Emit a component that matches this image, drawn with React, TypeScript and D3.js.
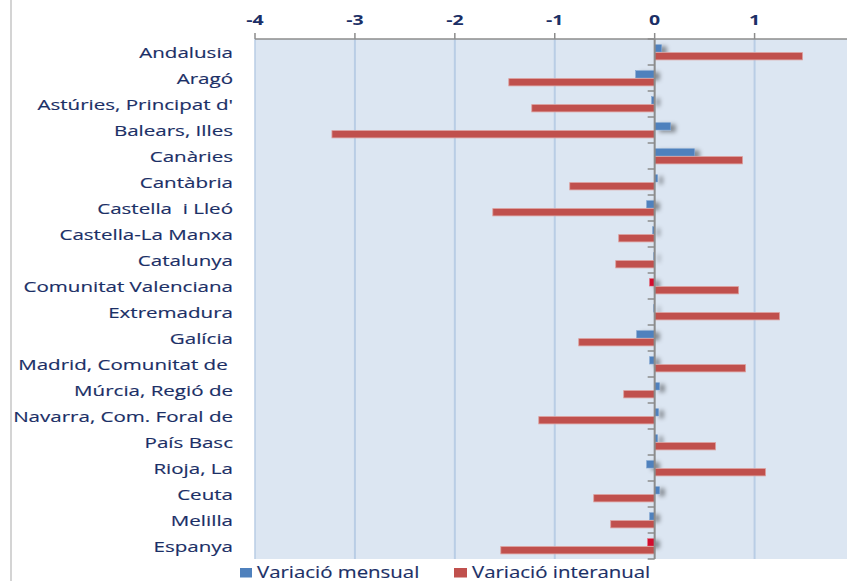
import React from "react";
import * as d3 from "d3";

const categories = [
  "Andalusia",
  "Aragó",
  "Astúries, Principat d'",
  "Balears, Illes",
  "Canàries",
  "Cantàbria",
  "Castella  i Lleó",
  "Castella-La Manxa",
  "Catalunya",
  "Comunitat Valenciana",
  "Extremadura",
  "Galícia",
  "Madrid, Comunitat de ",
  "Múrcia, Regió de",
  "Navarra, Com. Foral de",
  "País Basc",
  "Rioja, La",
  "Ceuta",
  "Melilla",
  "Espanya",
];

const mensual = [0.07, -0.19, -0.03, 0.16, 0.4, 0.03, -0.08, -0.02, -0.01, -0.05, -0.01, -0.18, -0.05, 0.05, 0.04, 0.03, -0.08, 0.05, -0.05, -0.07];
const interanual = [1.48, -1.46, -1.23, -3.23, 0.88, -0.85, -1.62, -0.36, -0.39, 0.84, 1.25, -0.76, 0.91, -0.31, -1.16, 0.61, 1.11, -0.61, -0.44, -1.54];
const highlighted = ["Comunitat Valenciana", "Espanya"];
const xTicks = [-4, -3, -2, -1, 0, 1, 2];
const seriesNames = ["Variació mensual", "Variació interanual"];

const W = 847;
const H = 581;
const SX = 1.3;
const SXL = 1.37;
const TEXT = "#1B2F66";
const FONT = "'Open Sans', 'Noto Sans', sans-serif";

export default function App() {
  const x = d3.scaleLinear().domain([-4, 2]).range([255, 854.5]);
  const y = d3.scaleBand<string>().domain(categories).range([39, 559]).padding(0);
  const plotTop = 39;
  const plotBottom = 559;
  const barH = 7.3;
  const x0 = x(0);

  return (
    <svg width={W} height={H} style={{ position: "absolute", left: 0, top: 0, background: "#fff" }} fontFamily={FONT}>
      <defs>
        <filter id="sh" x="-50%" y="-100%" width="250%" height="400%">
          <feDropShadow dx="5" dy="2" stdDeviation="2.2" floodColor="#000" floodOpacity="0.4" />
        </filter>
      </defs>
      {/* chart border */}
      <line x1={11} x2={11} y1={0} y2={H} stroke="#D4D4D4" strokeWidth={2} />
      {/* title fragment (cut off at the top edge, as in the reference) */}
      <text x={696} y={-3} textAnchor="middle" fontSize={18} fontWeight="bold" fill={TEXT}>(%)</text>
      {/* plot area */}
      <rect x={x(-4)} y={plotTop} width={W - x(-4)} height={plotBottom - plotTop} fill="#DCE6F2" />
      {xTicks.filter((t) => t !== 0 && t !== -4).map((t) => (
        <line key={"g" + t} x1={x(t)} x2={x(t)} y1={plotTop} y2={plotBottom} stroke="#B9CDE5" strokeWidth={2} />
      ))}
      <line x1={x(-4)} x2={x(-4)} y1={plotTop} y2={plotBottom} stroke="#B9CDE5" strokeWidth={1.5} />
      {/* blue bars with shadow */}
      <g filter="url(#sh)">
        {categories.map((c, i) => {
          const v = mensual[i];
          const yy = (y(c) as number) + y.bandwidth() / 2 - barH;
          const hl = highlighted.includes(c);
          return (
            <rect
              key={"m" + c}
              x={Math.min(x(v), x0)}
              y={yy}
              width={Math.max(Math.abs(x(v) - x0), 0.6)}
              height={barH}
              fill={hl ? "#D20A2E" : "#4F81BD"}
              stroke={hl ? "#E06070" : "#7FA3D0"}
              strokeWidth={0.6}
            />
          );
        })}
      </g>
      {/* red bars */}
      {categories.map((c, i) => {
        const v = interanual[i];
        const yy = (y(c) as number) + y.bandwidth() / 2 + 0.6;
        return (
          <rect
            key={"i" + c}
            x={Math.min(x(v), x0)}
            y={yy}
            width={Math.abs(x(v) - x0)}
            height={barH}
            fill="#C0504D"
            stroke="#DDA09E"
            strokeWidth={0.8}
          />
        );
      })}
      {/* top value axis */}
      <line x1={x(-4)} x2={W} y1={plotTop} y2={plotTop} stroke="#8C8C8C" strokeWidth={1.5} />
      {xTicks.map((t) => (
        <g key={"t" + t}>
          <line x1={x(t)} x2={x(t)} y1={plotTop - 6} y2={plotTop} stroke="#8C8C8C" strokeWidth={1.5} />
          {t <= 1 && (
            <text
              transform={`translate(${x(t)},25) scale(${SX},1)`}
              textAnchor="middle"
              fontSize={15}
              fontWeight="bold"
              fill={TEXT}
            >
              {t}
            </text>
          )}
        </g>
      ))}
      {/* category axis at zero */}
      <line x1={x0} x2={x0} y1={plotTop} y2={plotBottom} stroke="#8C8C8C" strokeWidth={2} />
      {categories.map((c) => (
        <line key={"ct" + c} x1={x0 - 7} x2={x0} y1={(y(c) as number) + y.bandwidth()} y2={(y(c) as number) + y.bandwidth()} stroke="#8C8C8C" strokeWidth={1.5} />
      ))}
      <line x1={x0 - 7} x2={x0} y1={plotTop} y2={plotTop} stroke="#8C8C8C" strokeWidth={1.5} />
      {/* category labels */}
      {categories.map((c) => (
        <text
          key={"l" + c}
          transform={`translate(233,${(y(c) as number) + y.bandwidth() / 2 + 5.5}) scale(${SXL},1)`}
          textAnchor="end"
          fontSize={15}
          fill={TEXT}
          stroke={TEXT}
          strokeWidth={0.15}
          style={{ whiteSpace: "pre" }}
        >
          {c}
        </text>
      ))}
      {/* legend */}
      <rect x={240} y={568} width={12} height={9.5} fill="#4F81BD" />
      <text transform={`translate(257,578) scale(${SX},1)`} fontSize={15.7} fill={TEXT} stroke={TEXT} strokeWidth={0.15}>{seriesNames[0]}</text>
      <rect x={454} y={568} width={13} height={9.5} fill="#C0504D" />
      <text transform={`translate(472,578) scale(${SX},1)`} fontSize={15.7} fill={TEXT} stroke={TEXT} strokeWidth={0.15}>{seriesNames[1]}</text>
    </svg>
  );
}
